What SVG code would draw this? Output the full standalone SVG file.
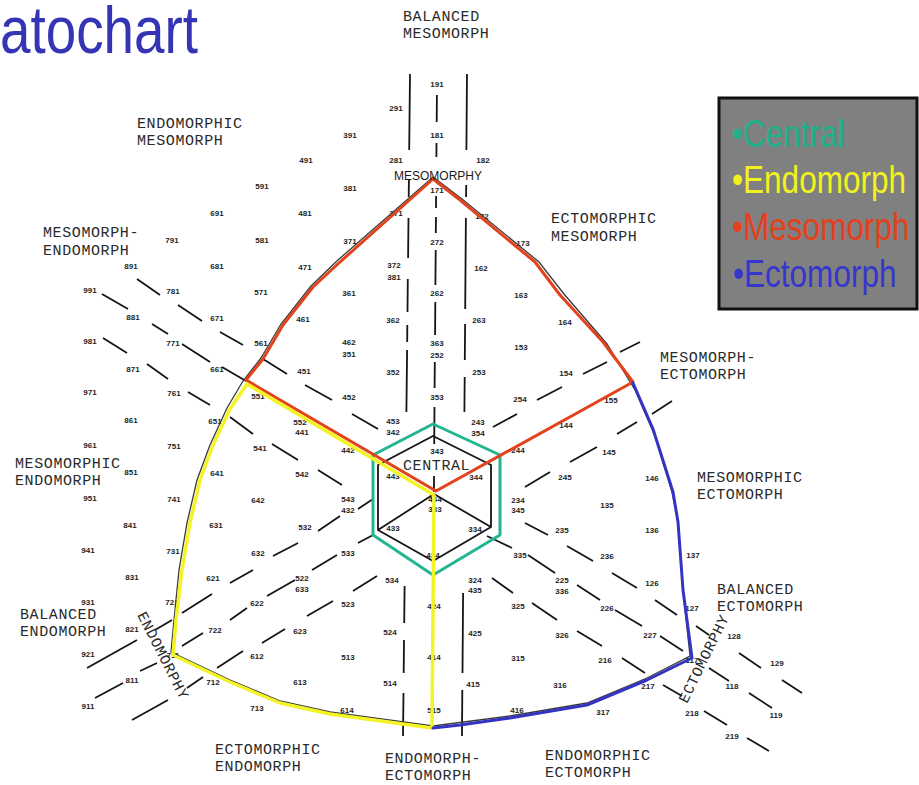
<svg xmlns="http://www.w3.org/2000/svg" width="919" height="785" viewBox="0 0 919 785">
<style>
.n{font-family:"Liberation Sans",Arial,sans-serif;font-size:8px;font-weight:bold;fill:#1e1e1e;text-anchor:middle}
.t{font-family:"Liberation Mono","Courier New",monospace;font-size:15px;letter-spacing:0.6px;fill:#2a2a2a}
.g{fill:none;stroke:#151515;stroke-width:1.8}
.lg{font-family:"Liberation Sans",Arial,sans-serif;font-size:38px}
.c{fill:none;stroke-linejoin:round;stroke-linecap:round}
</style>
<rect width="919" height="785" fill="#ffffff"/>
<text id="title" transform="translate(0,53) scale(0.83,1)" font-family="Liberation Sans, Arial, sans-serif" font-size="66" fill="#3434b4">atochart</text>

<g id="numbers">
<text class="n" x="437" y="87">191</text><text class="n" x="396" y="111">291</text><text class="n" x="437" y="138">181</text><text class="n" x="350" y="138">391</text>
<text class="n" x="306" y="163">491</text><text class="n" x="396" y="163">281</text><text class="n" x="483" y="163">182</text>
<text class="n" x="262" y="189">591</text><text class="n" x="350" y="191">381</text><text class="n" x="437" y="193">171</text>
<text class="n" x="217" y="216">691</text><text class="n" x="305" y="216">481</text><text class="n" x="396" y="216">271</text><text class="n" x="482" y="219">172</text>
<text class="n" x="172" y="243">791</text><text class="n" x="262" y="243">581</text><text class="n" x="350" y="244">371</text><text class="n" x="437" y="245">272</text><text class="n" x="523" y="246">173</text>
<text class="n" x="131" y="269">891</text><text class="n" x="217" y="269">681</text><text class="n" x="305" y="270">471</text><text class="n" x="394" y="268">372</text><text class="n" x="394" y="280">381</text><text class="n" x="481" y="271">162</text>
<text class="n" x="90" y="293">991</text><text class="n" x="173" y="294">781</text><text class="n" x="261" y="295">571</text><text class="n" x="349" y="296">361</text><text class="n" x="437" y="296">262</text><text class="n" x="521" y="298">163</text>
<text class="n" x="133" y="320">881</text><text class="n" x="217" y="321">671</text><text class="n" x="303" y="322">461</text><text class="n" x="393" y="323">362</text><text class="n" x="479" y="323">263</text><text class="n" x="565" y="325">164</text>
<text class="n" x="90" y="344">981</text><text class="n" x="173" y="346">771</text><text class="n" x="261" y="346">561</text><text class="n" x="349" y="345">462</text><text class="n" x="349" y="357">351</text><text class="n" x="437" y="346">363</text><text class="n" x="437" y="358">252</text><text class="n" x="521" y="350">153</text>
<text class="n" x="133" y="372">871</text><text class="n" x="217" y="372">661</text><text class="n" x="304" y="374">451</text><text class="n" x="393" y="375">352</text><text class="n" x="479" y="375">253</text><text class="n" x="566" y="376">154</text>
<text class="n" x="90" y="395">971</text><text class="n" x="174" y="396">761</text><text class="n" x="258" y="399">551</text><text class="n" x="349" y="400">452</text><text class="n" x="437" y="400">353</text><text class="n" x="520" y="402">254</text><text class="n" x="611" y="403">155</text>
<text class="n" x="131" y="423">861</text><text class="n" x="215" y="424">651</text><text class="n" x="300" y="425">552</text><text class="n" x="302" y="435">441</text><text class="n" x="393" y="424">453</text><text class="n" x="393" y="435">342</text><text class="n" x="478" y="425">243</text><text class="n" x="478" y="436">354</text><text class="n" x="566" y="428">144</text>
<text class="n" x="90" y="448">961</text><text class="n" x="174" y="449">751</text><text class="n" x="260" y="451">541</text><text class="n" x="348" y="453">442</text><text class="n" x="437" y="454">343</text><text class="n" x="518" y="453">244</text><text class="n" x="609" y="455">145</text>
<text class="n" x="131" y="475">851</text><text class="n" x="217" y="476">641</text><text class="n" x="302" y="477">542</text><text class="n" x="393" y="479">443</text><text class="n" x="476" y="480">344</text><text class="n" x="565" y="480">245</text><text class="n" x="652" y="481">146</text>
<text class="n" x="90" y="501">951</text><text class="n" x="174" y="502">741</text><text class="n" x="258" y="503">642</text><text class="n" x="348" y="502">543</text><text class="n" x="348" y="513">432</text><text class="n" x="435" y="502">444</text><text class="n" x="435" y="512">333</text><text class="n" x="518" y="503">234</text><text class="n" x="518" y="513">345</text><text class="n" x="607" y="508">135</text>
<text class="n" x="130" y="528">841</text><text class="n" x="216" y="528">631</text><text class="n" x="305" y="530">532</text><text class="n" x="393" y="531">433</text><text class="n" x="475" y="532">334</text><text class="n" x="562" y="533">235</text><text class="n" x="652" y="533">136</text>
<text class="n" x="88" y="553">941</text><text class="n" x="173" y="554">731</text><text class="n" x="258" y="556">632</text><text class="n" x="348" y="556">533</text><text class="n" x="433" y="558">434</text><text class="n" x="520" y="558">335</text><text class="n" x="607" y="559">236</text><text class="n" x="693" y="558">137</text>
<text class="n" x="132" y="580">831</text><text class="n" x="213" y="581">621</text><text class="n" x="302" y="581">522</text><text class="n" x="302" y="592">633</text><text class="n" x="392" y="583">534</text><text class="n" x="475" y="583">324</text><text class="n" x="475" y="593">435</text><text class="n" x="562" y="583">225</text><text class="n" x="562" y="594">336</text><text class="n" x="652" y="586">126</text>
<text class="n" x="88" y="605">931</text><text class="n" x="172" y="605">721</text><text class="n" x="257" y="606">622</text><text class="n" x="348" y="607">523</text><text class="n" x="434" y="609">424</text><text class="n" x="518" y="609">325</text><text class="n" x="607" y="611">226</text><text class="n" x="692" y="611">127</text>
<text class="n" x="132" y="632">821</text><text class="n" x="215" y="633">722</text><text class="n" x="300" y="634">623</text><text class="n" x="390" y="635">524</text><text class="n" x="475" y="636">425</text><text class="n" x="562" y="638">326</text><text class="n" x="650" y="638">227</text><text class="n" x="734" y="639">128</text>
<text class="n" x="88" y="657">921</text><text class="n" x="173" y="658">711</text><text class="n" x="257" y="659">612</text><text class="n" x="348" y="660">513</text><text class="n" x="434" y="660">414</text><text class="n" x="518" y="661">315</text><text class="n" x="605" y="663">216</text><text class="n" x="692" y="663">117</text><text class="n" x="777" y="666">129</text>
<text class="n" x="132" y="683">811</text><text class="n" x="213" y="685">712</text><text class="n" x="300" y="685">613</text><text class="n" x="390" y="686">514</text><text class="n" x="473" y="687">415</text><text class="n" x="560" y="688">316</text><text class="n" x="648" y="689">217</text><text class="n" x="732" y="689">118</text>
<text class="n" x="88" y="709">911</text><text class="n" x="257" y="711">713</text><text class="n" x="347" y="713">614</text><text class="n" x="434" y="713">515</text><text class="n" x="517" y="713">416</text><text class="n" x="603" y="715">317</text><text class="n" x="692" y="716">218</text><text class="n" x="776" y="718">119</text>
<text class="n" x="732" y="739">219</text>
</g>

<g id="grid">
<path class="g" d="M410,74 L409.2,150 M408.9,180 L408.7,197 M408.5,218 L408.1,258 M407.8,279 L407.5,312 M407.3,325 L407.2,342 M407.1,350 L406.4,412 M404.6,586 L404.2,623 M404,640 L403.7,673 M403.5,693 L403,736"/>
<path class="g" d="M467,74 L466.4,150 M466.2,185 L466.1,197 M465.9,218 L465.2,309 M465.1,324 L464.8,360 M464.7,377 L464.4,412 M463.1,593 L462.5,673 M462.3,690 L462,736"/>
<path class="g" d="M436.9,95 L436.7,122 M436.5,143 L436.4,157 M436.1,196 L436,208 M436,217 L435.8,233 M435.7,250 L435.4,285 M435.3,302 L435.1,335 M434.8,362 L434.6,388 M434.5,407 L434.2,444 M434,476 L434,492"/>
<path class="g" d="M137,279 L160,295 M178,305 L202,321 M220,332 L243,345 M263,359 L287,374 M305,385 L332,400 M352,414 L378,429"/>
<path class="g" d="M102,294 L128,309 M152,324 L168,334 M182,344 L210,362 M222,367 L246,381"/>
<path class="g" d="M103,338 L127,353 M147,364 L168,379 M188,392 L210,405 M230,417 L253,434 M272,444 L298,460 M318,470 L342,485"/>
<path class="g" d="M87,668 L137,640 M155,630 L172,620 M182,613 L212,594 M230,583 L253,570 M273,556 L298,543 M318,531 L340,516 M358,509 L373,499"/>
<path class="g" d="M95,698 L123,683 M140,671 L157,663 M182,646 L203,633 M230,620 L247,608 M267,596 L295,580 M312,570 L337,555 M358,543 L373,535"/>
<path class="g" d="M132,720 L168,700 M187,688 L203,677 M217,668 L243,651 M262,643 L285,629 M307,616 L333,601 M353,591 L377,576"/>
<path class="g" d="M525,523 L548,535 M567,546 L593,561 M612,573 L637,588 M655,600 L677,615 M696,626 L709,635 M739,653 L761,668 M782,680 L802,693"/>
<path class="g" d="M487,536 L512,548 M528,555 L555,573 M577,585 L600,600 M615,610 L642,626 M660,636 L683,651 M709,668 L729,681 M749,693 L772,708"/>
<path class="g" d="M492,578 L513,593 M532,603 L557,620 M577,631 L602,646 M622,658 L645,673 M663,685 L682,696 M704,711 L727,725 M747,738 L769,751"/>
<path class="g" d="M493,427 L517,414 M537,400 L562,387 M583,374 L607,362 M620,352 L640,342"/>
<path class="g" d="M525,487 L550,472 M570,462 L597,447 M617,434 L637,422 M652,414 L672,401"/>
<path class="g" stroke-width="1.4" d="M433,436 L491,465 L491,527 L433,561 L378,530 L378,465 Z M434,494 L378,530 M434,494 L491,527"/>
<path id="outline" fill="none" stroke="#3a3a3a" stroke-width="1.3" d="M433,177 L462,199 L539,262 L564,294 L607,344 L635,390 L655,436 L672,492 L678,522 L683,590 L690,656 L647,678 L587,703 L510,716 L433,726 L330,712 L280,701 L230,680 L171,652 L174,620 L179,570 L187,523 L197,480 L210,445 L227,408 L243,381 L261,358 L281,324 L311,286 L338,260 Z"/>
</g>

<g id="regions">
<polygon id="central" class="c" stroke="#22b592" stroke-width="3" points="433,424 500,455 500,535 433,575 373,535 373,455"/>
<path id="mesomorph" class="c" stroke="#e2421c" stroke-width="3" d="M436,491 L246,380 L263,359 L283,325 L313,287 L340,262 L433,179 L460,200 L535,262 L560,295 L603,342 L633,382 Z"/>
<path id="endomorph" class="c" stroke="#f3f325" stroke-width="3.5" d="M434,495 L247,384 L230,409 L213,445 L200,480 L190,523 L182,570 L176,620 L173,655 L230,682 L280,703 L330,714 L432,728 Z"/>
<path id="ectomorph" class="c" stroke="#3434c4" stroke-width="3" d="M633,383 L653,429 L673,492 L678,522 L683,590 L692,658 L647,680 L587,705 L510,718 L460,725 L433,728"/>
</g>

<g id="labels">
<text font-family="Liberation Sans, Arial, sans-serif" font-size="12" fill="#1a1a1a" x="438" y="180" text-anchor="middle">MESOMORPHY</text>
<text class="t" x="403" y="470">CENTRAL</text>
<text class="t" x="403" y="21">BALANCED</text><text class="t" x="403" y="38">MESOMORPH</text>
<text class="t" x="137" y="128">ENDOMORPHIC</text><text class="t" x="137" y="145">MESOMORPH</text>
<text class="t" x="43" y="237">MESOMORPH-</text><text class="t" x="43" y="255">ENDOMORPH</text>
<text class="t" x="551" y="223">ECTOMORPHIC</text><text class="t" x="551" y="241">MESOMORPH</text>
<text class="t" x="660" y="362">MESOMORPH-</text><text class="t" x="660" y="379">ECTOMORPH</text>
<text class="t" x="697" y="482">MESOMORPHIC</text><text class="t" x="697" y="499">ECTOMORPH</text>
<text class="t" x="15" y="468">MESOMORPHIC</text><text class="t" x="15" y="485">ENDOMORPH</text>
<text class="t" x="20" y="619">BALANCED</text><text class="t" x="20" y="636">ENDOMORPH</text>
<text class="t" x="717" y="594">BALANCED</text><text class="t" x="717" y="611">ECTOMORPH</text>
<text class="t" x="215" y="754">ECTOMORPHIC</text><text class="t" x="215" y="771">ENDOMORPH</text>
<text class="t" x="385" y="763">ENDOMORPH-</text><text class="t" x="385" y="780">ECTOMORPH</text>
<text class="t" x="545" y="760">ENDOMORPHIC</text><text class="t" x="545" y="777">ECTOMORPH</text>
<text class="t" font-size="14" transform="translate(137,615) rotate(63)">ENDOMORPHY</text>
<text class="t" font-size="14" transform="translate(687,704) rotate(-64)">ECTOMORPHY</text>
</g>

<g id="legend">
<rect x="719" y="98" width="198" height="211" fill="#808080" stroke="#111" stroke-width="3"/>
<text class="lg" fill="#1fb08c" transform="translate(732,147) scale(0.83,1)">•Central</text>
<text class="lg" fill="#f2f21c" transform="translate(732,193) scale(0.83,1)">•Endomorph</text>
<text class="lg" fill="#e3401c" transform="translate(732,240) scale(0.83,1)">•Mesomorph</text>
<text class="lg" fill="#3636cc" transform="translate(733,287) scale(0.83,1)">•Ectomorph</text>
</g>
</svg>
